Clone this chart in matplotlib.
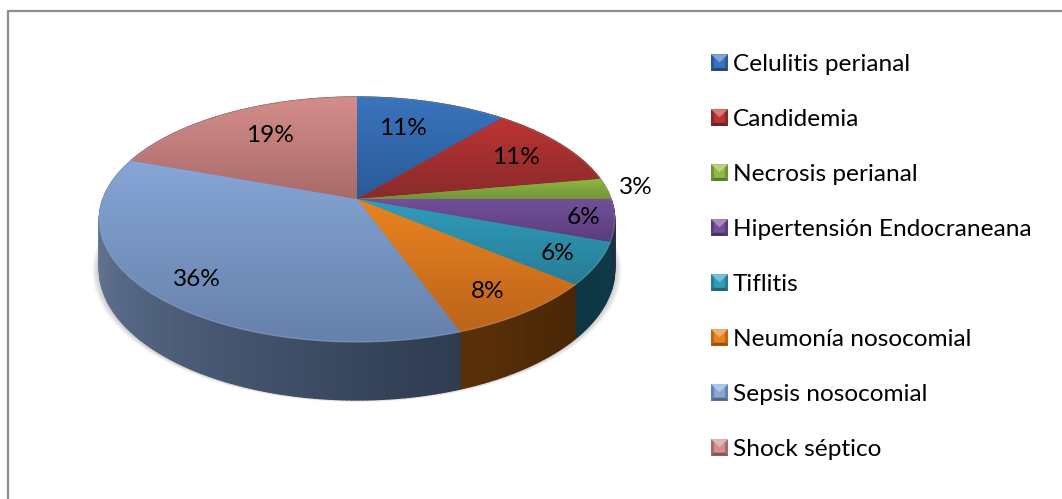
import numpy as np
import matplotlib
matplotlib.use('Agg')
import matplotlib.pyplot as plt
from matplotlib.collections import PolyCollection
from matplotlib.colors import to_rgb
from matplotlib.legend_handler import HandlerBase
from matplotlib.patches import Patch, Polygon
from matplotlib.transforms import Transform

# DATA
categories = ['Celulitis perianal', 'Candidemia', 'Necrosis perianal',
              'Hipertensión Endocraneana', 'Tiflitis', 'Neumonía nosocomial',
              'Sepsis nosocomial', 'Shock séptico']
cases = [4, 4, 1, 2, 2, 3, 13, 7]

# STYLE
top_light = ['#3a74bd', '#bb3433', '#90b93f', '#72509a', '#2f9dbc', '#ea831f', '#86a6d7', '#d38d8b']
top_dark = ['#295a97', '#892a2a', '#729339', '#5b3d7c', '#287c95', '#bb641c', '#6681aa', '#a96a6a']
wall_start = ['#1d3d66', '#5e1c1c', '#4c6026', '#3d2854', '#0e3a48', '#4a2607', '#2e3b50', '#5a3f3f']
wall_end = ['#1d3d66', '#5e1c1c', '#4c6026', '#0e3542', '#0e3542', '#5a3108', '#7388aa', '#5a3f3f']

# pixel layout of the projected pie
CX, CY = 357, 199
RX, RY = 254, 119
PERSP = 0.1673
DEPTH = 48.3
label_x = [403, 516, 636, 583, 557, 488, 197, 270]
label_y = [128, 158, 188, 217, 254, 292, 279, 135]
FONT = 'Lato'
FONT_SIZE = 17.6


class Perspective(Transform):
    input_dims = 2
    output_dims = 2

    def transform_non_affine(self, values):
        values = np.asarray(values, dtype=float)
        den = 1 + PERSP * values[:, 1]
        return np.column_stack((CX + RX * values[:, 0] / den, CY - RY * values[:, 1] / den))


def rim(theta, drop=False):
    # theta clockwise from top, degrees
    rad = np.radians(theta)
    den = 1 + PERSP * np.cos(rad)
    x = CX + RX * np.sin(rad) / den
    y = CY - RY * np.cos(rad) / den
    if drop:
        y = y + DEPTH / den
    return x, y


def mix(c1, c2, t):
    return tuple((1 - t) * a + t * b for a, b in zip(to_rgb(c1), to_rgb(c2)))


class BevelHandler(HandlerBase):
    def create_artists(self, legend, orig_handle, xdescent, ydescent, width, height, fontsize, trans):
        light, dark = orig_handle.light, orig_handle.dark
        x0, y0 = -xdescent, -ydescent
        x1, y1 = x0 + width, y0 + height
        xm, ym = (x0 + x1) / 2, (y0 + y1) / 2
        faces = [([(x0, y0), (x1, y0), (x1, y1), (x0, y1)], dark),
                 ([(x0 + 2, y0 + 2), (x1 - 2, y0 + 2), (x1 - 2, y1 - 2), (x0 + 2, y1 - 2)], light),
                 ([(x0, y1), (x1, y1), (xm, ym)], mix(light, 'white', 0.35)),
                 ([(x0, y0), (x1, y0), (x1 - 2, y0 + 2), (x0 + 2, y0 + 2)], mix(dark, 'black', 0.2))]
        return [Polygon(pts, closed=True, facecolor=col, edgecolor='none', transform=trans) for pts, col in faces]


def pie_chart(ax):
    total = sum(cases)
    edges = np.concatenate(([0], np.cumsum(cases))) * 360 / total

    # soft shadow under the pie
    theta = np.linspace(0, 360, 361)
    bx, by = rim(theta, drop=True)
    for grow in [7, 6, 5, 4, 3, 2, 1]:
        ax.fill(CX + (bx - CX) * (1 + grow / 258), by + grow * 0.3, color='black', alpha=0.03, lw=0, zorder=1)

    # side wall, back to front
    polys, cols, order = [], [], []
    for i in range(len(cases)):
        steps = np.arange(edges[i], edges[i + 1] + 0.01, 1.0)
        if steps[-1] < edges[i + 1]:
            steps = np.append(steps, edges[i + 1])
        for a, b in zip(steps[:-1], steps[1:]):
            xa, ya = rim(a)
            xb, yb = rim(b)
            xc, yc = rim(b, drop=True)
            xd, yd = rim(a, drop=True)
            polys.append([(xa, ya), (xb, yb), (xc, yc), (xd, yd)])
            t = (a - edges[i]) / (edges[i + 1] - edges[i])
            cols.append(mix(wall_start[i], wall_end[i], t))
            order.append(-np.cos(np.radians((a + b) / 2)))
    idx = np.argsort(order)
    ax.add_collection(PolyCollection([polys[j] for j in idx], facecolors=[cols[j] for j in idx],
                                     edgecolors=[cols[j] for j in idx], linewidths=1.0, zorder=2))

    # top face
    wedges, _ = ax.pie(cases, startangle=90, counterclock=False, colors=top_dark,
                       wedgeprops={'transform': Perspective() + ax.transData, 'linewidth': 0, 'zorder': 3})
    for i, wedge in enumerate(wedges):
        arc = np.linspace(edges[i], edges[i + 1], 60)
        rx, ry = rim(arc)
        xs = np.append(rx, CX)
        ys = np.append(ry, CY)
        ramp = np.array([mix(top_light[i], top_dark[i], t) for t in np.linspace(0, 1, 64)]).reshape(64, 1, 3)
        im = ax.imshow(ramp, extent=(xs.min(), xs.max(), ys.max(), ys.min()), aspect='auto',
                       interpolation='bilinear', zorder=3.1)
        im.set_clip_path(wedge)
        # light bevel along the rim
        ax.plot(rx, ry, color=mix(top_dark[i], 'white', 0.25), lw=1.0, alpha=0.6, zorder=3.2)

    for i in range(len(cases)):
        ax.text(label_x[i], label_y[i], f'{100 * cases[i] / total:.0f}%', ha='center', va='center',
                color='black', family=FONT, fontsize=FONT_SIZE, zorder=4)


def legend(ax):
    handles = []
    for i, name in enumerate(categories):
        h = Patch(label=name)
        h.light, h.dark = top_light[i], top_dark[i]
        handles.append(h)
    ax.legend(handles=handles, handler_map={Patch: BevelHandler()}, loc='upper left',
              bbox_to_anchor=(711, 54), bbox_transform=ax.transData, frameon=False,
              prop={'family': FONT, 'size': FONT_SIZE}, borderpad=0, borderaxespad=0,
              handlelength=0.7, handleheight=0.66, handletextpad=0.2, labelspacing=1.39)


def main():
    fig = plt.figure(figsize=(10.62, 4.99), dpi=100)
    ax = fig.add_axes([0, 0, 1, 1])
    pie_chart(ax)
    legend(ax)
    ax.set_aspect('auto')
    ax.set_xlim(0, 1062)
    ax.set_ylim(499, 0)
    ax.axis('off')
    # chart frame
    ax.plot([8, 8, 1062], [499, 10.5, 10.5], color='#8c8c8c', lw=1.6, solid_joinstyle='miter')
    fig.savefig('out.png', dpi=100)


main()
